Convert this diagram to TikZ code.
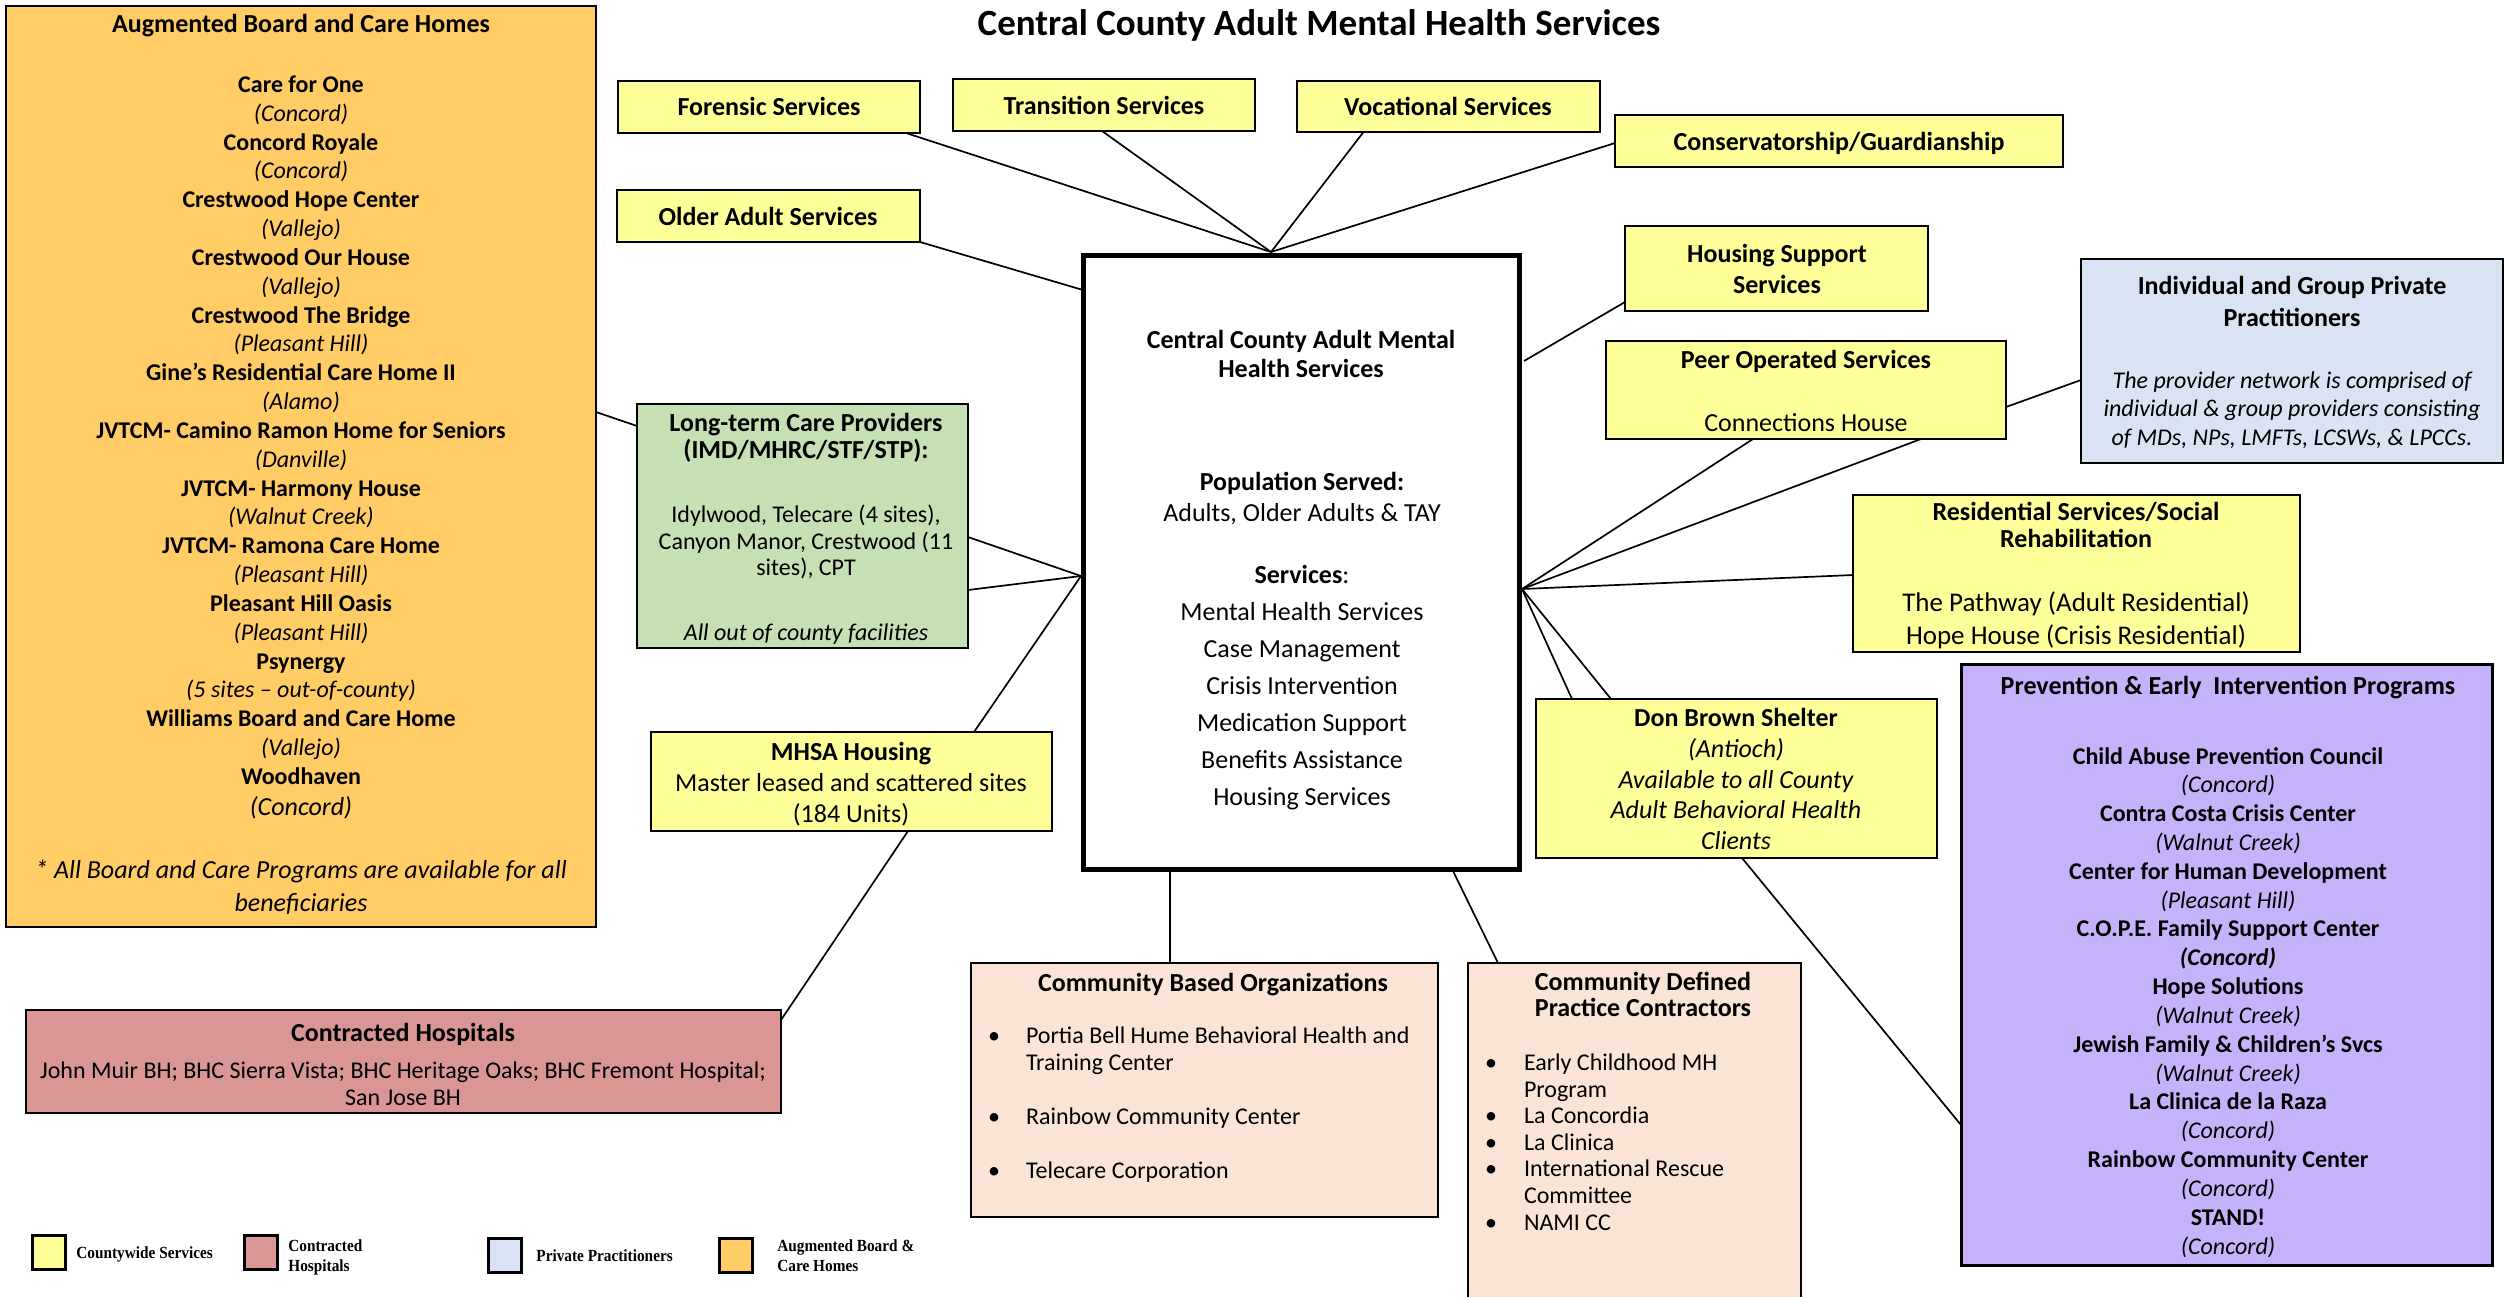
\documentclass[tikz,border=0pt]{standalone}
\usepackage{fontspec}
\setmainfont{Carlito}
\newfontfamily\legfont{Liberation Serif}
\usetikzlibrary{fit,calc}
\definecolor{cyel}{RGB}{255,255,153}
\definecolor{corange}{RGB}{255,204,102}
\definecolor{cgreen}{RGB}{197,224,180}
\definecolor{cblue}{RGB}{218,227,243}
\definecolor{cpeach}{RGB}{250,228,214}
\definecolor{cred}{RGB}{217,150,148}
\definecolor{cpurple}{RGB}{198,178,250}
\newcommand{\fsz}[2]{\fontsize{#1pt}{#2pt}\selectfont}
\newcommand{\lsq}[1]{\scalebox{0.9}[1]{#1}}
\newcommand{\vtc}[1]{\begin{tabular}[t]{@{}c@{}}#1\end{tabular}}
\newcommand{\vtl}[1]{\begin{tabular}[t]{@{}l@{}}#1\end{tabular}}
\tikzset{
  box/.style={draw=black, line width=1pt, inner sep=0pt, outer sep=0pt},
  link/.style={draw=black, line width=0.85pt},
  txt/.style={anchor=base, inner sep=0pt, outer sep=0pt},
  ltxt/.style={anchor=base west, inner sep=0pt, outer sep=0pt},
  hdr/.style={font=\fsz{13}{15.5}\bfseries},
  legtxt/.style={anchor=base west, inner sep=0pt, font=\legfont\fsz{8.5}{10}\bfseries},
  legsq/.style={box, line width=1.5pt}
}
\begin{document}
\begin{tikzpicture}[x=0.5pt,y=-0.5pt]
\path[use as bounding box, fill=white] (0,0) rectangle (2504,1297);

% title
\node[txt, font=\fsz{18.5}{21}\bfseries] (title) at (1319,35) {Central County Adult Mental Health Services};

% Augmented board and care
\node[box, fill=corange, fit={(6,6) (596,927)}] (aug) {};
\node[txt, hdr] (augh) at (301,32) {Augmented Board and Care Homes};
\node[txt, font=\fsz{12}{14.415}] (augl) at (301,92.5) {\vtc{\textbf{Care for One}\\
\textit{(Concord)}\\
\textbf{Concord Royale}\\
\textit{(Concord)}\\
\textbf{Crestwood Hope Center}\\
\textit{(Vallejo)}\\
\textbf{Crestwood Our House}\\
\textit{(Vallejo)}\\
\textbf{Crestwood The Bridge}\\
\textit{(Pleasant Hill)}\\
\textbf{Gine’s Residential Care Home II}\\
\textit{(Alamo)}\\
\textbf{JVTCM- Camino Ramon Home for Seniors}\\
\textit{(Danville)}\\
\textbf{JVTCM- Harmony House}\\
\textit{(Walnut Creek)}\\
\textbf{JVTCM- Ramona Care Home}\\
\textit{(Pleasant Hill)}\\
\textbf{Pleasant Hill Oasis}\\
\textit{(Pleasant Hill)}\\
\textbf{Psynergy}\\
\textit{(5 sites – out-of-county)}\\
\textbf{Williams Board and Care Home}\\
\textit{(Vallejo)}\\
\textbf{Woodhaven}}};
\node[txt, font=\fsz{13}{15}\itshape] (augw) at (301,815) {(Concord)};
\node[txt, font=\fsz{13}{16.5}\itshape] (augf) at (301,878) {\vtc{* All Board and Care Programs are available for all\\beneficiaries}};

% top yellow boxes
\node[box, fill=cyel, fit={(618,81) (920,133)}] (forensic) {};
\node[txt, hdr] (forensict) at (769,115.5) {Forensic Services};
\node[box, fill=cyel, fit={(953,79) (1255,131)}] (transition) {};
\node[txt, hdr] (transitiont) at (1104,114.5) {Transition Services};
\node[box, fill=cyel, fit={(1297,81) (1600,132)}] (vocational) {};
\node[txt, hdr] (vocationalt) at (1448,115.5) {Vocational Services};
\node[box, fill=cyel, fit={(1615,115) (2063,167)}] (conserv) {};
\node[txt, hdr] (conservt) at (1839,150.5) {Conservatorship/Guardianship};
\node[box, fill=cyel, fit={(617,190) (920,242)}] (older) {};
\node[txt, hdr] (oldert) at (768,225.5) {Older Adult Services};

% central box
\node[box, line width=2.5pt, fill=white, fit={(1083,255) (1519,869)}] (central) {};
\node[txt, font=\fsz{13}{14.5}\bfseries] (centralh) at (1301,348) {\vtc{Central County Adult Mental\\Health Services}};
\node[txt, font=\fsz{13}{15.5}] (centralp) at (1302,490) {\vtc{\textbf{Population Served:}\\Adults, Older Adults \& TAY}};
\node[txt, font=\fsz{13}{18.5}] (centrals) at (1302,583) {\vtc{\textbf{Services}:\\Mental Health Services\\Case Management\\Crisis Intervention\\Medication Support\\Benefits Assistance\\Housing Services}};

% right side
\node[box, fill=cyel, fit={(1625,226) (1928,311)}] (housing) {};
\node[txt, font=\fsz{13}{15.5}\bfseries] (housingt) at (1777,262.5) {\vtc{Housing Support\\Services}};
\node[box, fill=cyel, fit={(1606,341) (2006,439)}] (peer) {};
\node[txt, hdr] (peert) at (1806,368.5) {Peer Operated Services};
\node[txt, font=\fsz{13}{15.5}] (peerc) at (1806,431.5) {Connections House};
\node[box, fill=cblue, fit={(2081,259) (2503,463)}] (indiv) {};
\node[txt, font=\fsz{13}{16}\bfseries] (indivt) at (2292,294.5) {\vtc{Individual and Group Private\\Practitioners}};
\node[txt, font=\fsz{12}{14.4}\itshape] (indivb) at (2292,388) {\vtc{The provider network is comprised of\\individual \& group providers consisting\\of MDs, NPs, LMFTs, LCSWs, \& LPCCs.}};
\node[box, fill=cyel, fit={(1853,495) (2300,652)}] (resid) {};
\node[txt, font=\fsz{13}{13.5}\bfseries] (residt) at (2076,520.5) {\vtc{Residential Services/Social\\Rehabilitation}};
\node[txt, font=\fsz{13.5}{16.5}] (residb) at (2076,611.5) {\vtc{The Pathway (Adult Residential)\\Hope House (Crisis Residential)}};
\node[box, fill=cyel, fit={(1536,699) (1937,858)}] (donbrown) {};
\node[txt, font=\fsz{13}{15.4}\itshape] (donbrownt) at (1736,726.5) {\vtc{\textbf{\upshape Don Brown Shelter}\\(Antioch)\\Available to all County\\Adult Behavioral Health\\Clients}};

% PEI
\node[box, line width=1.5pt, fill=cpurple, fit={(1961,664) (2492,1265)}] (pei) {};
\node[txt, hdr] (peit) at (2228,694.5) {Prevention \& Early\ \ Intervention Programs};
\node[txt, font=\fsz{12}{14.415}] (peil) at (2228,764) {\vtc{\textbf{Child Abuse Prevention Council}\\
\textit{(Concord)}\\
\textbf{Contra Costa Crisis Center}\\
\textit{(Walnut Creek)}\\
\textbf{Center for Human Development}\\
\textit{(Pleasant Hill)}\\
\textbf{C.O.P.E. Family Support Center}\\
\textbf{\textit{(Concord)}}\\
\textbf{Hope Solutions}\\
\textit{(Walnut Creek)}\\
\textbf{Jewish Family \& Children’s Svcs}\\
\textit{(Walnut Creek)}\\
\textbf{La Clinica de la Raza}\\
\textit{(Concord)}\\
\textbf{Rainbow Community Center}\\
\textit{(Concord)}\\
\textbf{STAND!}\\
\textit{(Concord)}}};

% left middle
\node[box, fill=cgreen, fit={(637,404) (968,648)}] (ltc) {};
\node[txt, font=\fsz{13}{13.5}\bfseries] (ltct) at (806,431.5) {\vtc{Long-term Care Providers\\(IMD/MHRC/STF/STP):}};
\node[txt, font=\fsz{12}{13.25}] (ltcb) at (806,522.5) {\vtc{Idylwood, Telecare (4 sites),\\Canyon Manor, Crestwood (11\\sites), CPT}};
\node[txt, font=\fsz{12}{13.25}\itshape] (ltci) at (806,640) {All out of county facilities};
\node[box, fill=cyel, fit={(651,732) (1052,831)}] (mhsa) {};
\node[txt, font=\fsz{13}{15.6}] (mhsat) at (851,760.5) {\vtc{\textbf{MHSA Housing}\\Master leased and scattered sites\\(184 Units)}};

% contracted hospitals
\node[box, fill=cred, fit={(26,1010) (781,1113)}] (contracted) {};
\node[txt, hdr] (contractedt) at (403,1041.5) {Contracted Hospitals};
\node[txt, font=\fsz{12}{13.5}] (contractedb) at (403,1078.5) {\vtc{John Muir BH; BHC Sierra Vista; BHC Heritage Oaks; BHC Fremont Hospital;\\San Jose BH}};

% CBO
\node[box, fill=cpeach, fit={(971,963) (1438,1217)}] (cbo) {};
\node[txt, hdr] (cbot) at (1213,991.5) {Community Based Organizations};
\node[txt, font=\fsz{12}{13.5}] (cbob) at (994,1043.5) {\vtc{•\\[27pt]•\\[13.5pt]•}};
\node[ltxt, font=\fsz{12}{13.5}] (cbol) at (1026,1043.5) {\vtl{Portia Bell Hume Behavioral Health and\\Training Center\\[13.5pt]Rainbow Community Center\\[13.5pt]Telecare Corporation}};

% CDP
\node[fill=cpeach, inner sep=0pt, outer sep=0pt, fit={(1468,963) (1801,1297)}] (cdp) {};
\draw[line width=1pt] (cdp.south west) -- (cdp.north west) -- (cdp.north east) -- (cdp.south east);
\node[txt, font=\fsz{13}{12.5}\bfseries] (cdpt) at (1643,990.5) {\vtc{Community Defined\\Practice Contractors}};
\node[txt, font=\fsz{12}{13.3}] (cdpb) at (1491,1070.5) {\vtc{•\\[13.3pt]•\\•\\•\\[13.3pt]•}};
\node[ltxt, font=\fsz{12}{13.3}] (cdpl) at (1524,1070.5) {\vtl{Early Childhood MH\\Program\\La Concordia\\La Clinica\\International Rescue\\Committee\\NAMI CC}};

% legend
\node[legsq, fill=cyel, fit={(32,1235) (65,1269)}] (legy) {};
\node[legtxt] (legyt) at (76,1258) {\lsq{Countywide Services}};
\node[legsq, fill=cred, fit={(244,1235) (277,1269)}] (legr) {};
\node[legtxt] (legrt) at (288,1251) {\vtl{\lsq{Contracted}\\\lsq{Hospitals}}};
\node[legsq, fill=cblue, fit={(488,1238) (521,1272)}] (legb) {};
\node[legtxt] (legbt) at (536,1261) {\lsq{Private Practitioners}};
\node[legsq, fill=corange, fit={(719,1238) (752,1272)}] (lego) {};
\node[legtxt] (legot) at (777,1251) {\vtl{\lsq{Augmented Board \&}\\\lsq{Care Homes}}};

% junctions
\coordinate (jtop) at (1271,252);
\coordinate (jright) at (1522,589);
\coordinate (jleft) at (1081,576);

% connectors
\draw[link] ($(forensic.south east)+(-14,0)$) -- (jtop);
\draw[link] ($(transition.south)+(-2,0)$) -- (jtop);
\draw[link] ($(vocational.south)+(-85,0)$) -- (jtop);
\draw[link] ($(conserv.west)+(0,2)$) -- (jtop);
\draw[link] (older.south east) -- ($(central.north west)+(0,35)$);
\draw[link] ($(housing.south west)+(0,-9)$) -- ($(central.north east)+(5,106)$);
\draw[link] ($(peer.south west)+(147,0)$) -- (jright);
\draw[link] ($(peer.south west)+(315,0)$) -- (jright);
\draw[link] ($(peer.south east)+(0,-32)$) -- ($(indiv.north west)+(0,121)$);
\draw[link] ($(resid.south west)+(0,-77)$) -- (jright);
\draw[link] ($(donbrown.north west)+(36,0)$) -- (jright);
\draw[link] ($(donbrown.north west)+(75,0)$) -- (jright);
\draw[link] ($(donbrown.south west)+(206,0)$) -- ($(pei.north west)+(0,461)$);
\draw[link] ($(ltc.north east)+(0,133)$) -- (jleft);
\draw[link] ($(ltc.north east)+(0,186)$) -- (jleft);
\draw[link] ($(aug.north east)+(0,406)$) -- ($(ltc.north west)+(0,22)$);
\draw[link] ($(mhsa.north west)+(323,0)$) -- (jleft);
\draw[link] ($(mhsa.south west)+(257,0)$) -- ($(contracted.north east)+(0,10)$);
\draw[link] ($(central.south west)+(87,0)$) -- ($(cbo.north west)+(199,0)$);
\draw[link] ($(central.south east)+(-67,0)$) -- ($(cdp.north west)+(30,0)$);
\end{tikzpicture}
\end{document}
